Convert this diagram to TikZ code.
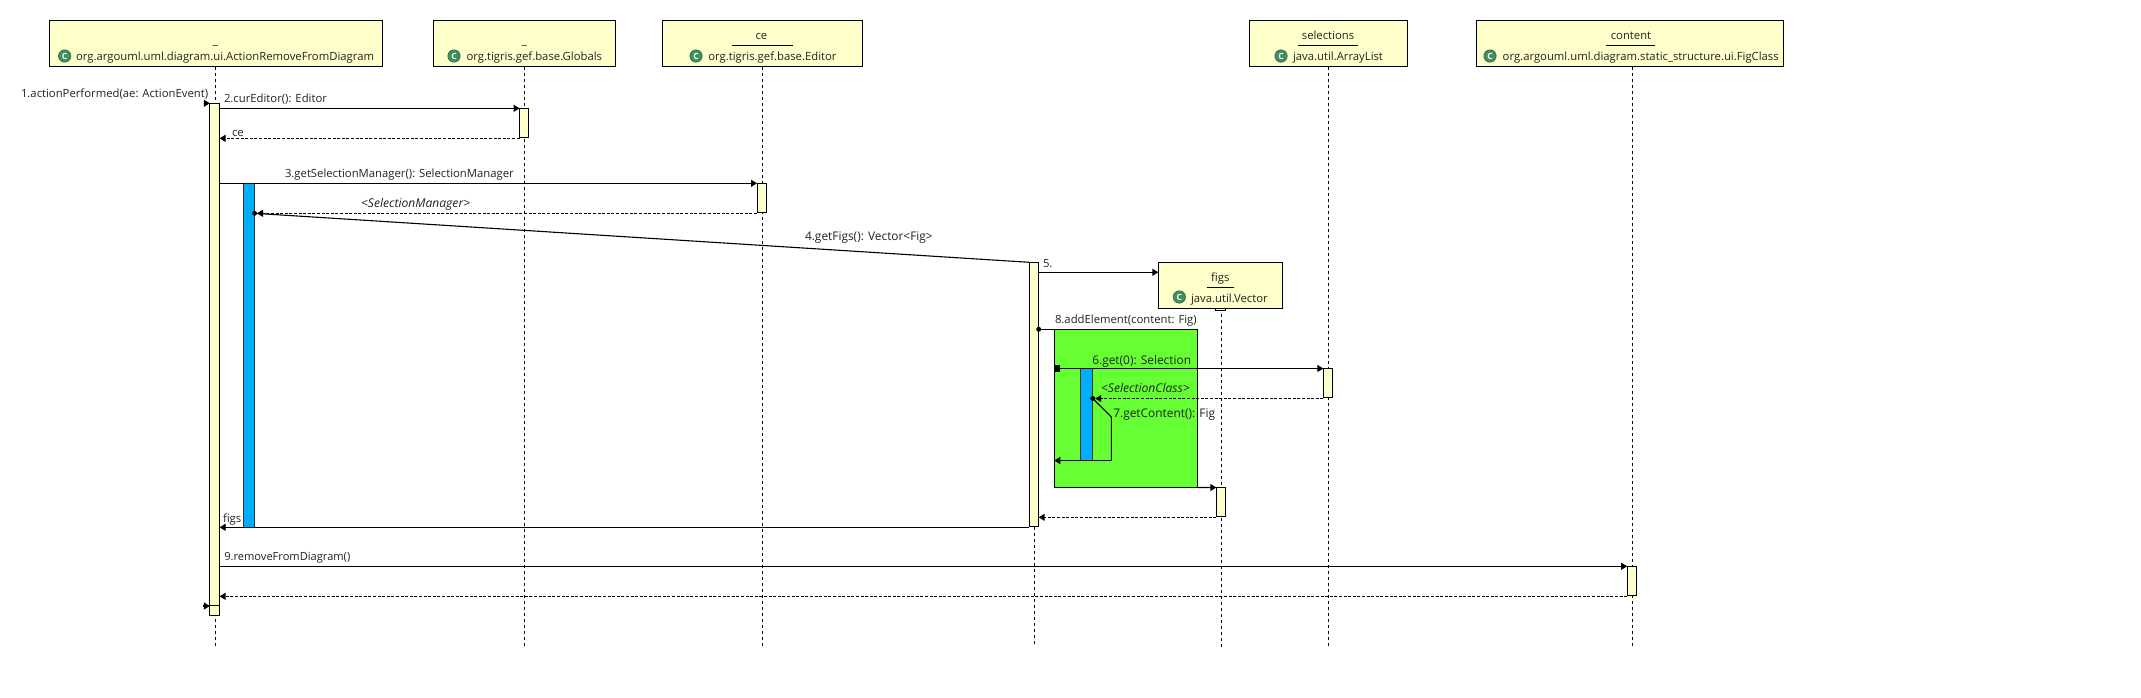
\documentclass[tikz,border=0pt]{standalone}
\usepackage{fontspec}
\setmainfont{Open Sans}
\usetikzlibrary{arrows.meta}
\definecolor{noteyellow}{HTML}{FFFFCC}
\definecolor{barblue}{HTML}{00AEFF}
\definecolor{loopgreen}{HTML}{66FF33}
\definecolor{iconteal}{HTML}{3F8F5F}
\definecolor{inktext}{HTML}{222222}
\tikzset{
  x=1pt,y=-1pt,
  obj/.style={draw=black,line width=1pt,fill=noteyellow,inner sep=0,outer sep=0,anchor=north west},
  act/.style={draw=black,line width=0.9pt,fill=noteyellow,inner sep=0,outer sep=0,anchor=north west},
  bluebar/.style={draw=black!80,line width=0.8pt,fill=barblue,inner sep=0,outer sep=0,anchor=north west},
  greenbox/.style={draw=black,line width=1.1pt,fill=loopgreen,inner sep=0,outer sep=0,anchor=north west},
  life/.style={draw=black,line width=0.8pt,dash pattern=on 3pt off 3pt},
  msg/.style={draw=black,line width=1.1pt,-{Triangle[length=6pt,width=7pt]}},
  ret/.style={draw=black,line width=1pt,dash pattern=on 3pt off 1.6pt,-{Triangle[length=6pt,width=7pt]}},
  plainl/.style={draw=black,line width=1.1pt},
  lbl/.style={anchor=base west,inner sep=0,outer sep=0,text=inktext,font=\fontsize{11.3}{13}\selectfont},
  ctr/.style={lbl,anchor=base},
  cls/.style={lbl},
  wide/.style={lbl,font=\fontsize{11.9}{13}\selectfont},
  slanted/.style={lbl,font=\fontsize{12.1}{13}\itshape\selectfont},
  icon/.style={circle,fill=iconteal,draw=iconteal!70!black,line width=0.5pt,minimum size=12.5pt,inner sep=0,outer sep=0,text=white,font=\fontsize{8.5}{8.5}\bfseries\selectfont},
  dotmark/.style={circle,fill=black,minimum size=5pt,inner sep=0,outer sep=0},
  squaremark/.style={rectangle,fill=black,minimum width=5.5pt,minimum height=7pt,inner sep=0,outer sep=0},
}
\newcommand{\placebox}[6]{\node[#1,minimum width={(#5-#3)*1pt},minimum height={(#6-#4)*1pt}] (#2) at (#3,#4) {};}
\begin{document}
\begin{tikzpicture}
\fill[white] (0,0) rectangle (2141,697);
\useasboundingbox (0,0) rectangle (2141,697);
% message heights
\coordinate (y1) at (0,103.3);
\coordinate (y2) at (0,108.3);
\coordinate (yce) at (0,138.3);
\coordinate (y3) at (0,183.3);
\coordinate (ysm) at (0,213.3);
\coordinate (y5) at (0,272.3);
\coordinate (y8) at (0,329.3);
\coordinate (y6) at (0,368.5);
\coordinate (ysc) at (0,398.5);
\coordinate (y7) at (0,460.5);
\coordinate (yr8) at (0,517.3);
\coordinate (yfigs) at (0,527.3);
\coordinate (y9) at (0,566.3);
\coordinate (yr9) at (0,596.3);
\coordinate (yend) at (0,605.6);
% lifeline ends
\coordinate (la) at (215.3,646.7);
\coordinate (lb) at (524.5,646.7);
\coordinate (lc) at (762.8,646.7);
\coordinate (lf) at (1221.3,646.7);
\coordinate (ld) at (1328.6,646.7);
\coordinate (le) at (1632,646.7);
\coordinate (lg) at (1034.3,646.7);
\coordinate (found1) at (203.5,103.3);
\coordinate (found2) at (203,606);
\coordinate (bend7) at (1111.3,416.9);
\coordinate (corner7) at (1111.3,460.5);
% object boxes
\placebox{obj}{objA}{49}{20}{382}{66.7}
\placebox{obj}{objB}{433}{20}{615.6}{66.7}
\placebox{obj}{objC}{662.3}{20}{862}{66.7}
\placebox{obj}{objD}{1249}{20}{1407.6}{66.7}
\placebox{obj}{objE}{1476.8}{20}{1783.5}{66.7}
% lifelines
\draw[life] (objA.south -| la) -- (la);
\draw[life] (objB.south -| lb) -- (lb);
\draw[life] (objC.south -| lc) -- (lc);
\draw[life] (objD.south -| ld) -- (ld);
\draw[life] (objE.south -| le) -- (le);
\draw[life] (1221.3,308.3) -- (lf);
\draw[life] (1034.3,527.3) -- (lg);
% figs object
\placebox{act}{actFigsTop}{1215.3}{306}{1225.3}{310.7}
\placebox{obj}{objF}{1158.3}{262.3}{1282.7}{308.3}
% activations
\placebox{act}{main}{209.8}{103.3}{219.6}{615.7}
\placebox{act}{actB}{519.6}{108.3}{528.6}{137.3}
\placebox{act}{actC}{757}{183.3}{766.5}{212.3}
\placebox{act}{actG}{1029.3}{262.3}{1038.7}{526.3}
\placebox{act}{actD}{1323.3}{368.5}{1332.7}{397.5}
\placebox{act}{actF}{1216.3}{487.5}{1225.7}{516.3}
\placebox{act}{actE}{1627.2}{566.3}{1636.6}{595.7}
% coloured blocks
\placebox{greenbox}{green}{1054.3}{329.3}{1197.3}{487.5}
\placebox{bluebar}{blueA}{243.3}{183.3}{254.5}{527.3}
\placebox{bluebar}{blueB}{1080.7}{368.5}{1092.7}{460.5}
% marks
\node[dotmark] (dotSM) at (blueA.east |- ysm) {};
\node[dotmark] (dot8) at (actG.east |- y8) {};
\node[dotmark] (dotSC) at (blueB.east |- ysc) {};
\node[squaremark] (sq6) at (1057,368.5) {};
% messages
\draw[msg] (found1) -- (main.north west);
\draw[msg] (main.east |- y2) -- (actB.north west);
\draw[ret] (actB.west |- yce) -- (main.east |- yce);
\draw[msg] (main.east |- y3) -- (actC.north west);
\draw[ret] (actC.west |- ysm) -- (dotSM.east);
\draw[plainl] (dotSM) -- (actG.north west);
\draw[msg] (actG.east |- y5) -- (objF.west |- y5);
\draw[plainl] (dot8) -- (green.north west);
\draw[msg] (sq6) -- (actD.north west);
\draw[ret] (actD.west |- ysc) -- (dotSC.east);
\draw[plainl] (dotSC) -- (bend7) -- (corner7);
\draw[msg] (corner7) -- (green.west |- y7);
\draw[msg] (green.south east) -- (actF.north west);
\draw[ret] (actF.west |- yr8) -- (actG.east |- yr8);
\draw[msg] (actG.west |- yfigs) -- (main.east |- yfigs);
\draw[msg] (main.east |- y9) -- (actE.north west);
\draw[ret] (actE.west |- yr9) -- (main.east |- yr9);
\draw[line width=0.8pt] (main.west |- yend) -- (main.east |- yend);
\draw[msg] (found2) -- (main.west |- found2);
% object names
\node[ctr] (nameA) at (215.5,44) {\_};
\node[ctr] (nameB) at (524.5,44) {\_};
\node[ctr] (nameC) at (761.4,39.3) {ce};
\node[ctr] (nameD) at (1328,39.3) {selections};
\node[ctr] (nameE) at (1631,39.3) {content};
\node[ctr] (nameF) at (1220.3,281.3) {figs};
\draw[line width=1pt] (732.4,45) coordinate (ruleCa) -- (792.7,45) coordinate (ruleCb);
\draw[line width=1pt] (1298,45) coordinate (ruleDa) -- (1358,45) coordinate (ruleDb);
\draw[line width=1pt] (1606,45) coordinate (ruleEa) -- (1655,45) coordinate (ruleEb);
\draw[line width=1pt] (1206.7,287.3) coordinate (ruleFa) -- (1234,287.3) coordinate (ruleFb);
% class icons and names
\node[icon] (iconA) at (64.7,56) {C};
\node[cls] (clsA) at (76,60) {org.argouml.uml.diagram.ui.ActionRemoveFromDiagram};
\node[icon] (iconB) at (454,56) {C};
\node[cls] (clsB) at (466.5,60) {org.tigris.gef.base.Globals};
\node[icon] (iconC) at (696,56) {C};
\node[cls] (clsC) at (708.3,60) {org.tigris.gef.base.Editor};
\node[icon] (iconD) at (1281,56) {C};
\node[cls] (clsD) at (1293,60) {java.util.ArrayList};
\node[icon] (iconE) at (1490,56) {C};
\node[cls] (clsE) at (1502.7,60) {org.argouml.uml.diagram.static\_structure.ui.FigClass};
\node[icon] (iconF) at (1179.3,297) {C};
\node[cls] (clsF) at (1191,302) {java.util.Vector};
% message labels
\node[lbl] (m1) at (21,97) {1.actionPerformed(ae: ActionEvent)};
\node[lbl] (m2) at (224,102) {2.curEditor(): Editor};
\node[lbl] (mce) at (232,136) {ce};
\node[lbl] (m3) at (285,177) {3.getSelectionManager(): SelectionManager};
\node[slanted] (msm) at (361,207) {<SelectionManager>};
\node[wide] (m4) at (805,240) {4.getFigs(): Vector<Fig>};
\node[lbl] (m5) at (1043,267) {5.};
\node[lbl] (m8) at (1055,323) {8.addElement(content: Fig)};
\node[wide] (m6) at (1092.3,364.5) {6.get(0): Selection};
\node[slanted] (msc) at (1101,392) {<SelectionClass>};
\node[wide] (m7) at (1113.3,417.5) {7.getContent(): Fig};
\node[lbl] (mfigs) at (223,522.5) {figs};
\node[lbl,font=\fontsize{11.1}{13}\selectfont] (m9) at (224.3,560.5) {9.removeFromDiagram()};
\end{tikzpicture}
\end{document}
